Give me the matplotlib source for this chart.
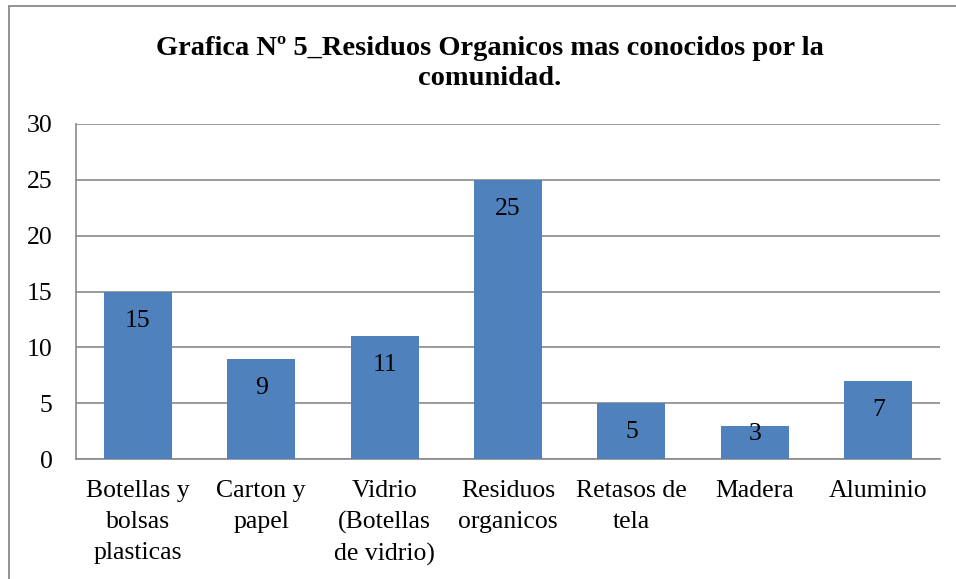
import matplotlib
matplotlib.use("Agg")
import matplotlib.pyplot as plt
from matplotlib.patches import Rectangle

categorias = ["Botellas y\nbolsas\nplasticas", "Carton y\npapel", "Vidrio\n(Botellas\nde vidrio)",
              "Residuos\norganicos", "Retasos de\ntela", "Madera", "Aluminio"]
valores = [15, 9, 11, 25, 5, 3, 7]
titulo = "Grafica Nº 5_Residuos Organicos mas conocidos por la\ncomunidad."

plt.rcParams['font.family'] = ['Liberation Serif', 'DejaVu Serif']

fig = plt.figure(figsize=(9.56, 5.79), dpi=100)
ax = fig.add_axes([76/956, 1 - 459/579, (940-76)/956, (459-124)/579])

x = range(len(valores))
bars = ax.bar(x, valores, width=0.55, color='#4F81BD', zorder=3)
for xi, v in zip(x, valores):
    # barras cortas: la etiqueta se pega al borde superior
    off = -21 if v >= 5 else -6
    ax.annotate(str(v), (xi, v), xytext=(0, off), textcoords='offset points',
                ha='center', va='center', fontsize=18.5, zorder=4)

ax.set_xlim(-0.5, len(valores) - 0.5)
ax.set_ylim(0, 30)
ax.set_yticks([0, 5, 10, 15, 20, 25, 30])
ax.yaxis.grid(True, color='#8a8a8a', linewidth=1.2, zorder=0)
ax.set_xticks(list(x))
ax.set_xticklabels(categorias, fontsize=18.5, linespacing=1.52)
ax.tick_params(axis='both', length=0, labelsize=18.5)
ax.tick_params(axis='x', pad=15)
ax.tick_params(axis='y', pad=17)
for s in ['top', 'right']:
    ax.spines[s].set_visible(False)
ax.spines['left'].set_color('#8a8a8a')
ax.spines['bottom'].set_color('#8a8a8a')
ax.spines['left'].set_linewidth(1.2)
ax.spines['bottom'].set_linewidth(1.2)

fig.text(490/956, 1 - 63.5/579, titulo, ha='center', va='center', fontsize=20.5,
         fontweight='bold', linespacing=1.3)

# marco del grafico
fig.patches.append(Rectangle((9/956, -0.1), 1.2, 1 - 6/579 + 0.1, transform=fig.transFigure,
                             fill=False, edgecolor='#8a8a8a', linewidth=1.3))

fig.savefig("out.png", dpi=100)
